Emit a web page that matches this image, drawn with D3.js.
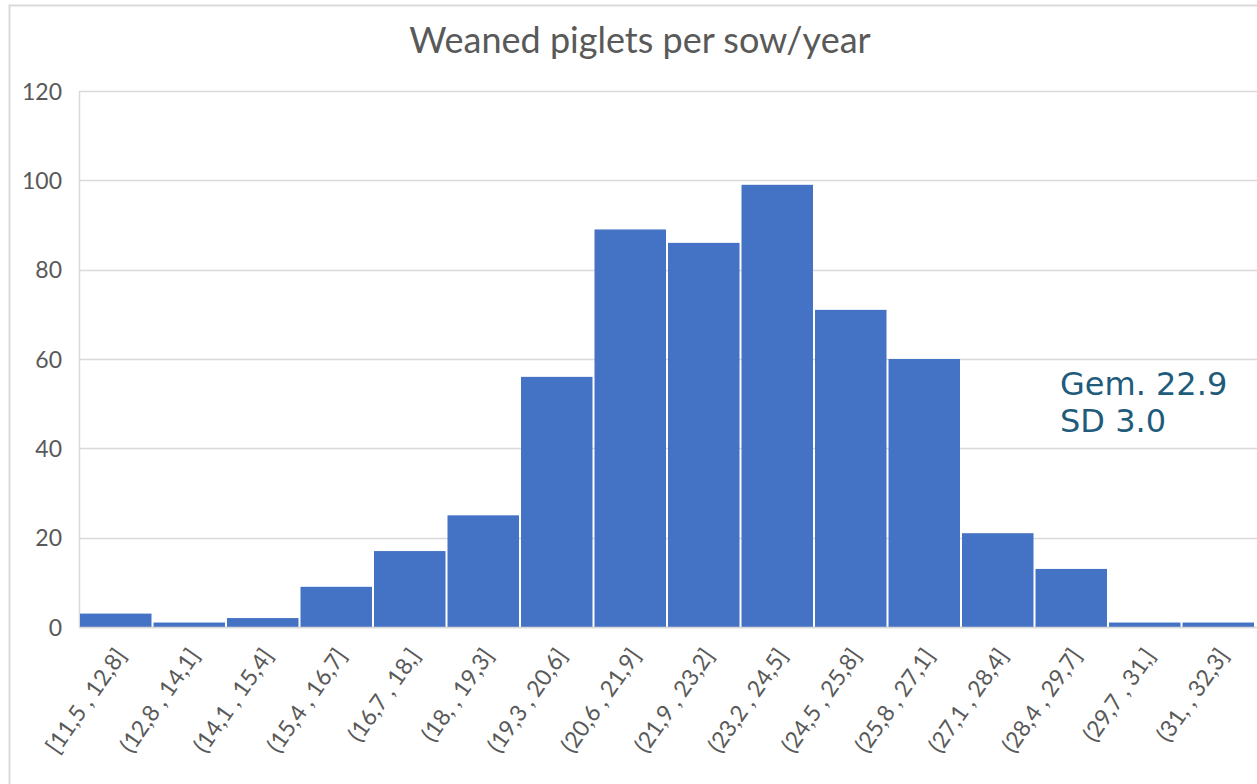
<!DOCTYPE html>
<html>
    <head>
        <meta charset="utf-8">
        <script type="text/javascript" src="https://d3js.org/d3.v7.min.js"></script>
        <style>
            html, body {
                margin: 0;
                padding: 0;
                background: #fff;
            }
            svg text {
                font-family: Lato, "Liberation Sans", sans-serif;
                fill: #595959;
            }
            svg .title {
                font-size: 36px;
            }
            svg .axis.y text {
                font-size: 23px;
            }
            svg .axis.x text {
                font-size: 23px;
            }
            svg .note {
                font-family: "DejaVu Sans", Verdana, sans-serif;
                font-size: 32px;
                fill: #1f5c7c;
            }
        </style>
    </head>
    <body>
        <div id="chart"></div>
        <script>
            var bins = ["[11,5 , 12,8]", "(12,8 , 14,1]", "(14,1 , 15,4]", "(15,4 , 16,7]",
                        "(16,7 , 18,]", "(18, , 19,3]", "(19,3 , 20,6]", "(20,6 , 21,9]",
                        "(21,9 , 23,2]", "(23,2 , 24,5]", "(24,5 , 25,8]", "(25,8 , 27,1]",
                        "(27,1 , 28,4]", "(28,4 , 29,7]", "(29,7 , 31,]", "(31, , 32,3]"];
            var counts = [3, 1, 2, 9, 17, 25, 56, 89, 86, 99, 71, 60, 21, 13, 1, 1];
            var yTicks = [0, 20, 40, 60, 80, 100, 120];
            var noteLines = ["Gem. 22.9", "SD 3.0"];

            var width = 1257, height = 784;
            var margin = {top: 91, right: 2, bottom: 157, left: 79};

            var svg = d3.select("#chart")
                .append("svg")
                    .attr("width", width)
                    .attr("height", height);

            // chart frame (cut off at right / bottom in the original)
            svg.append("rect")
                .attr("x", 9.5)
                .attr("y", 5.5)
                .attr("width", 1400)
                .attr("height", 1000)
                .attr("fill", "none")
                .attr("stroke", "#d9d9d9")
                .attr("stroke-width", 2);

            var xScale = d3.scaleBand()
                .domain(bins)
                .range([margin.left, width - margin.right])
                .padding(0);

            var yScale = d3.scaleLinear()
                .domain([0, 120])
                .range([height - margin.bottom, margin.top]);

            // grid
            svg.append("g")
                .attr("class", "grid")
                .selectAll("line")
                .data(yTicks)
                .enter()
                .append("line")
                .attr("x1", margin.left)
                .attr("x2", width)
                .attr("y1", function(d) { return Math.round(yScale(d)) + 0.5; })
                .attr("y2", function(d) { return Math.round(yScale(d)) + 0.5; })
                .attr("stroke", "#d9d9d9")
                .attr("stroke-width", 1.5);

            // left axis line
            svg.append("line")
                .attr("x1", margin.left + 0.5)
                .attr("x2", margin.left + 0.5)
                .attr("y1", yScale(120))
                .attr("y2", yScale(0))
                .attr("stroke", "#d9d9d9")
                .attr("stroke-width", 1.5);

            var yAxis = svg.append("g")
                .attr("class", "axis y")
                .attr("transform", "translate(" + (margin.left - 17) + ",0)")
                .call(d3.axisLeft(yScale).tickValues(yTicks).tickSize(0).tickPadding(0));
            yAxis.select(".domain").remove();
            yAxis.selectAll("text").attr("dy", "0.35em");

            // bars
            svg.append("g")
                .attr("class", "bars")
                .selectAll("rect")
                .data(counts)
                .enter()
                .append("rect")
                .attr("x", function(d, i) { return xScale(bins[i]) + 1; })
                .attr("width", xScale.bandwidth() - 2)
                .attr("y", function(d) { return yScale(d); })
                .attr("height", function(d) { return yScale(0) - yScale(d); })
                .attr("fill", "#4472c4");

            // x labels
            var xAxis = svg.append("g")
                .attr("class", "axis x")
                .attr("transform", "translate(0," + yScale(0) + ")")
                .call(d3.axisBottom(xScale).tickSize(0).tickPadding(0));
            xAxis.select(".domain")
                .attr("stroke", "#d9d9d9")
                .attr("stroke-width", 1.5);
            xAxis.selectAll("text")
                .attr("text-anchor", "end")
                .attr("dy", "0.35em")
                .attr("transform", "translate(5,24) rotate(-55)");

            svg.append("text")
                .attr("class", "title")
                .attr("x", 640)
                .attr("y", 53)
                .attr("text-anchor", "middle")
                .text("Weaned piglets per sow/year");

            svg.append("text")
                .attr("class", "note")
                .selectAll("tspan")
                .data(noteLines)
                .enter()
                .append("tspan")
                .attr("x", 1060)
                .attr("y", function(d, i) { return 395 + i * 37; })
                .text(function(d) { return d; });
        </script>
    </body>
</html>
